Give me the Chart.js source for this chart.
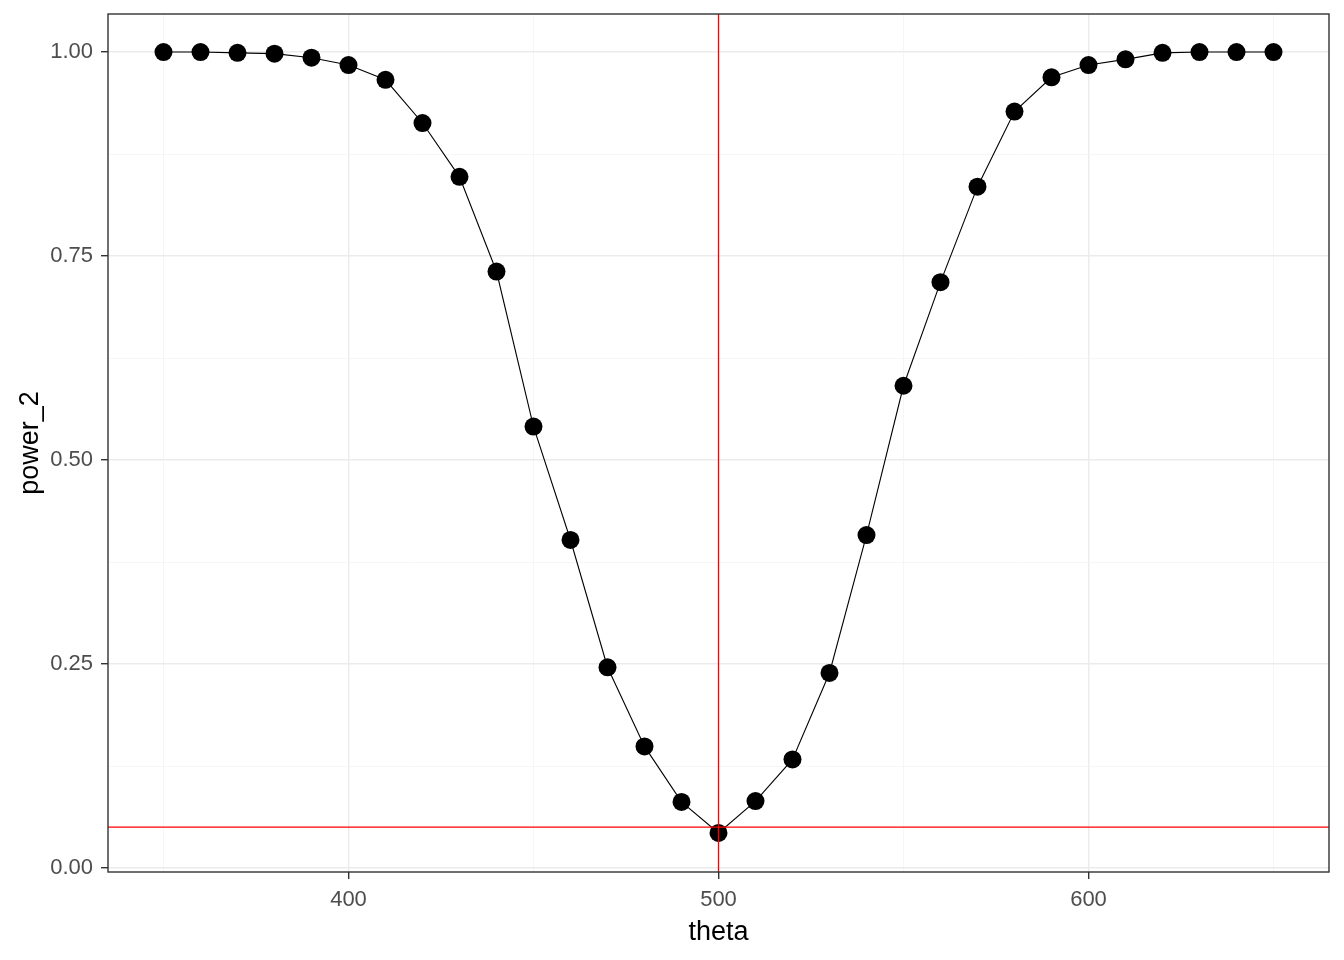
<!DOCTYPE html>
<html>
<head>
<meta charset="utf-8">
<script src="https://cdn.jsdelivr.net/npm/chart.js@4"></script>
<style>
  body { margin: 0; background: #fff; }
  #wrap { width: 1344px; height: 960px; }
</style>
</head>
<body>
<div id="wrap"><canvas id="powerChart" width="1344" height="960"></canvas></div>
<script>
// theta 取值
const thetaList = [350, 360, 370, 380, 390, 400, 410, 420, 430, 440, 450, 460, 470, 480, 490,
  500, 510, 520, 530, 540, 550, 560, 570, 580, 590, 600, 610, 620, 630, 640, 650];
// power_2
const powerList = [1.000, 1.000, 0.999, 0.998, 0.993, 0.984, 0.966, 0.913, 0.847, 0.731, 0.541, 0.402, 0.246, 0.149, 0.081,
  0.043, 0.082, 0.133, 0.239, 0.408, 0.591, 0.718, 0.835, 0.927, 0.969, 0.984, 0.991, 0.999, 1.000, 1.000, 1.000];
// 参考线
const vLineX = 500;
const hLineY = 0.05;
// 刻度
const xMajorTicks = [400, 500, 600];
const yMajorTicks = [0, 0.25, 0.5, 0.75, 1];

const xMin = 335, xMax = 665;
const yMin = -0.0049, yMax = 1.0466;

// 面板边框
const panelBorder = {
  id: 'panelBorder',
  afterDatasetsDraw(chart) {
    const a = chart.chartArea;
    const ctx = chart.ctx;
    ctx.save();
    ctx.strokeStyle = '#333333';
    ctx.lineWidth = 1.4;
    ctx.strokeRect(a.left, a.top, a.right - a.left, a.bottom - a.top);
    ctx.restore();
  }
};

function isMajor(list, v) {
  return list.some(t => Math.abs(t - v) < 1e-6);
}

const points = thetaList.map((t, i) => ({ x: t, y: powerList[i] }));

const ctx = document.getElementById('powerChart').getContext('2d');
new Chart(ctx, {
  type: 'scatter',
  data: {
    datasets: [
      {
        data: [{ x: vLineX, y: yMin }, { x: vLineX, y: yMax }],
        showLine: true, borderColor: '#FF0000', borderWidth: 1.3,
        pointRadius: 0, order: 1
      },
      {
        data: [{ x: xMin, y: hLineY }, { x: xMax, y: hLineY }],
        showLine: true, borderColor: '#FF0000', borderWidth: 1.3,
        pointRadius: 0, order: 1
      },
      {
        data: points,
        showLine: true, borderColor: '#000000', borderWidth: 1.1,
        pointRadius: 9, pointBackgroundColor: '#000000', pointBorderWidth: 0,
        order: 2
      }
    ]
  },
  options: {
    responsive: false,
    animation: false,
    events: [],
    layout: { padding: { left: 0, right: 15, top: 14, bottom: 0 } },
    plugins: { legend: { display: false }, tooltip: { enabled: false } },
    scales: {
      x: {
        type: 'linear', min: xMin, max: xMax,
        afterBuildTicks(axis) {
          axis.ticks = [350, 400, 450, 500, 550, 600, 650].map(v => ({ value: v }));
        },
        afterFit(axis) { axis.height = 88; },
        border: { display: false },
        grid: {
          color: c => isMajor(xMajorTicks, c.tick.value) ? '#EBEBEB' : '#F4F4F4',
          lineWidth: c => isMajor(xMajorTicks, c.tick.value) ? 1.4 : 0.8,
          tickColor: c => isMajor(xMajorTicks, c.tick.value) ? '#333333' : 'rgba(0,0,0,0)',
          tickLength: 7, tickWidth: 1.4
        },
        ticks: {
          autoSkip: false, maxRotation: 0, padding: 8,
          color: '#4D4D4D', font: { family: 'Liberation Sans', size: 22 },
          callback: v => isMajor(xMajorTicks, v) ? String(v) : ''
        },
        title: {
          display: true, text: 'theta', color: '#000000',
          font: { family: 'Liberation Sans', size: 27 }, padding: { top: 0, bottom: 11 }
        }
      },
      y: {
        type: 'linear', min: yMin, max: yMax,
        afterBuildTicks(axis) {
          axis.ticks = [0, 0.125, 0.25, 0.375, 0.5, 0.625, 0.75, 0.875, 1].map(v => ({ value: v }));
        },
        afterFit(axis) {
          axis.width = 108;
          axis.paddingTop = 0;
          axis.paddingBottom = 0;
        },
        border: { display: false },
        grid: {
          color: c => isMajor(yMajorTicks, c.tick.value) ? '#EBEBEB' : '#F4F4F4',
          lineWidth: c => isMajor(yMajorTicks, c.tick.value) ? 1.4 : 0.8,
          tickColor: c => isMajor(yMajorTicks, c.tick.value) ? '#333333' : 'rgba(0,0,0,0)',
          tickLength: 7, tickWidth: 1.4
        },
        ticks: {
          autoSkip: false, padding: 8,
          color: '#4D4D4D', font: { family: 'Liberation Sans', size: 22 },
          callback: v => isMajor(yMajorTicks, v) ? v.toFixed(2) : ''
        },
        title: {
          display: true, text: 'power_2', color: '#000000',
          font: { family: 'Liberation Sans', size: 27 }, padding: { top: 14, bottom: 0 }
        }
      }
    }
  },
  plugins: [panelBorder]
});
</script>
</body>
</html>
